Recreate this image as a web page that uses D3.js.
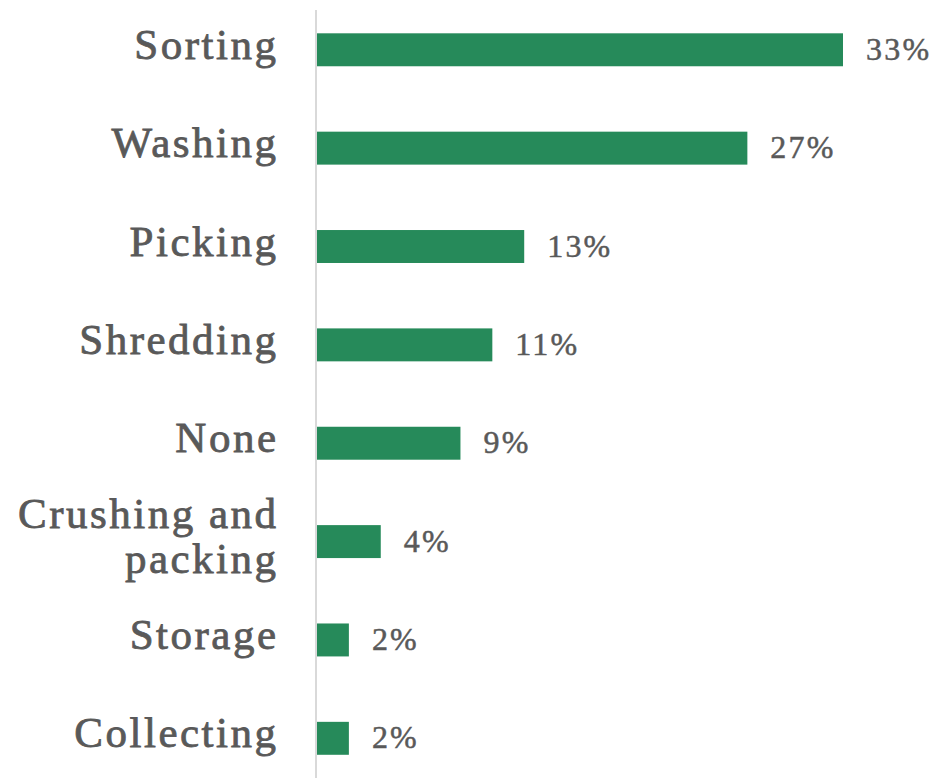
<!DOCTYPE html>
<html>
<head>
<meta charset="utf-8">
<script src="https://cdn.jsdelivr.net/npm/d3@7"></script>
<style>
  html, body { margin: 0; padding: 0; background: #ffffff; }
  svg { display: block; }
</style>
</head>
<body>
<svg id="chart" width="937" height="778"></svg>
<script>
// Activities carried out, share of respondents (%)
const categories = ["Sorting", "Washing", "Picking", "Shredding", "None", "Crushing and packing", "Storage", "Collecting"];
const values = [33, 27, 13, 11, 9, 4, 2, 2];
const valueLabels = ["33%", "27%", "13%", "11%", "9%", "4%", "2%", "2%"];
// Category names that break onto two lines
const labelLines = {
  "Crushing and packing": ["Crushing and", "packing"]
};

const svg = d3.select("#chart");
const W = 937, H = 778;
const textColor = "#595959";
const barColor = "#268a5a";
const fontFamily = "'Liberation Serif', 'DejaVu Serif', serif";
const catSize = 43, catSpacing = 2.5;
const valSize = 32, valSpacing = 2.2;

const x = d3.scaleLinear().domain([0, 33]).range([317, 843]);
const y = d3.scaleBand()
  .domain(categories)
  .range([0.85, 787.25])
  .paddingInner(0.665)
  .paddingOuter(0.33);

// Bars
svg.append("g")
  .selectAll("rect")
  .data(categories)
  .join("rect")
  .attr("x", x(0))
  .attr("y", d => y(d))
  .attr("width", (d, i) => x(values[i]) - x(0))
  .attr("height", y.bandwidth())
  .attr("fill", barColor);

// Category axis
const pad = 41 - catSpacing;
const axis = svg.append("g")
  .attr("transform", `translate(${x(0)},0)`)
  .call(d3.axisLeft(y).tickSize(0).tickPadding(pad));
axis.select(".domain").remove();
axis.selectAll(".tick text")
  .attr("fill", textColor)
  .attr("stroke", textColor)
  .attr("stroke-width", 0.8)
  .attr("font-family", fontFamily)
  .attr("font-size", catSize)
  .attr("letter-spacing", catSpacing)
  .attr("dy", null)
  .attr("y", 0)
  .each(function(d) {
    const t = d3.select(this);
    const lines = labelLines[d] || [d];
    const lh = 45;
    t.text(null);
    lines.forEach((ln, i) => {
      t.append("tspan")
        .attr("x", -pad)
        .attr("y", 9 - (lines.length - 1) * lh / 2 + i * lh)
        .text(ln);
    });
  });

// Vertical baseline
svg.append("line")
  .attr("x1", x(0) - 1).attr("x2", x(0) - 1)
  .attr("y1", 10).attr("y2", H)
  .attr("stroke", "#d9d9d9")
  .attr("stroke-width", 2);

// Value labels
svg.append("g")
  .selectAll("text")
  .data(categories)
  .join("text")
  .attr("x", (d, i) => x(values[i]) + 23)
  .attr("y", d => y(d) + y.bandwidth() / 2 + 10)
  .attr("fill", textColor)
  .attr("stroke", textColor)
  .attr("stroke-width", 0.5)
  .attr("font-family", fontFamily)
  .attr("font-size", valSize)
  .attr("letter-spacing", valSpacing)
  .text((d, i) => valueLabels[i]);
</script>
</body>
</html>
